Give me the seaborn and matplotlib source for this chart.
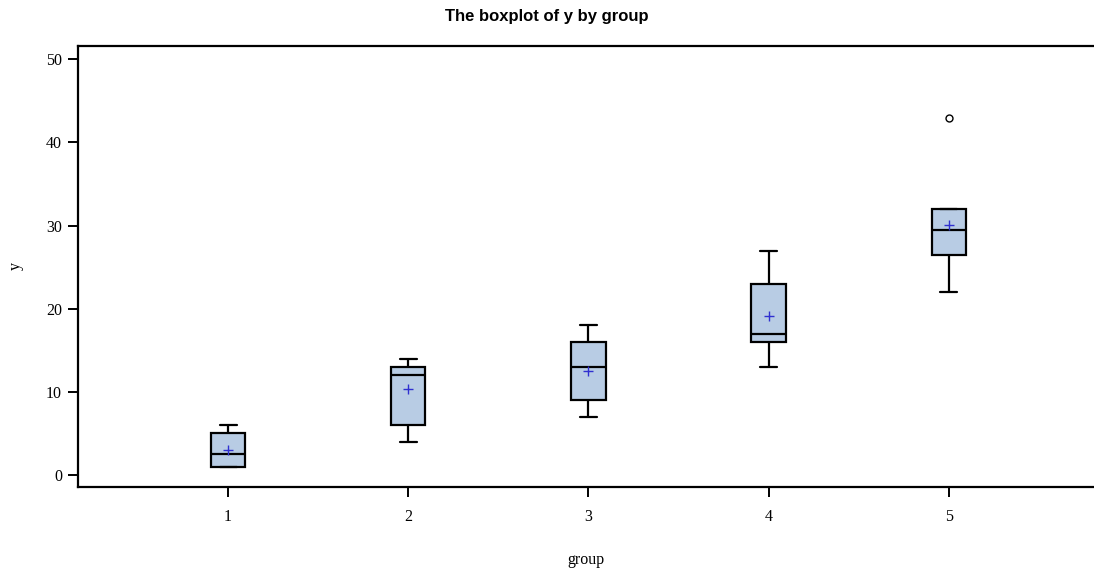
import pandas as pd
import matplotlib.pyplot as plt
import seaborn as sns

# raw observations per group (read back from the box statistics)
group1 = [1, 1, 1, 2, 2.5, 3.5, 5, 5, 6]
group2 = [4, 6, 6, 11, 12, 13, 13, 14, 14]
group3 = [7, 8, 9, 11, 13, 14, 16, 17, 18]
group4 = [13, 15, 16, 16, 17, 20, 23, 25, 27]
group5 = [22, 26, 26.5, 29, 29.5, 31, 32, 32, 43]
groups = ["1", "2", "3", "4", "5"]

rows = []
for g, vals in zip(groups, [group1, group2, group3, group4, group5]):
    for v in vals:
        rows.append({"group": g, "y": v})
df = pd.DataFrame(rows)

sns.set_style("white")
plt.rcParams['font.family'] = ['Liberation Serif', 'DejaVu Serif']
plt.rcParams['text.color'] = 'black'
plt.rcParams['axes.labelcolor'] = 'black'
plt.rcParams['xtick.color'] = 'black'
plt.rcParams['ytick.color'] = 'black'

fig = plt.figure(figsize=(10.94, 5.72), dpi=100)
ax = fig.add_axes([78 / 1094, 1 - 487 / 572, 1 - 78 / 1094, (487 - 46) / 572])

sns.boxplot(data=df, x="group", y="y", order=groups, ax=ax, width=0.19,
            color="#B8CCE4", saturation=1, linewidth=1.6, linecolor="black",
            showmeans=True,
            meanprops=dict(marker="+", markeredgecolor="#3030D0", markersize=6.5, markeredgewidth=1),
            flierprops=dict(marker="o", markerfacecolor="white", markeredgecolor="black",
                            markersize=5, markeredgewidth=1),
            medianprops=dict(color="black", linewidth=1.6))

ax.set_xlim(-0.833, 4.806)
ax.set_ylim(-1.44, 51.6)
ax.set_yticks([0, 10, 20, 30, 40, 50])

ax.spines["right"].set_visible(False)
for side in ["left", "bottom", "top"]:
    ax.spines[side].set_linewidth(1.6)
    ax.spines[side].set_color("black")

ax.tick_params(axis="both", direction="out", length=7.5, width=1.4, color="black",
               labelsize=11.5, left=True, bottom=True, pad=4)
ax.tick_params(axis="x", pad=8)

ax.set_xlabel("group", fontsize=11.5, labelpad=20)
ax.set_ylabel("y", fontsize=11.5, labelpad=16)
fig.suptitle("The boxplot of y by group", fontsize=12, fontweight="bold",
             family=["Liberation Sans", "DejaVu Sans"], y=0.985, color="black")

fig.savefig("out.png", dpi=100)
